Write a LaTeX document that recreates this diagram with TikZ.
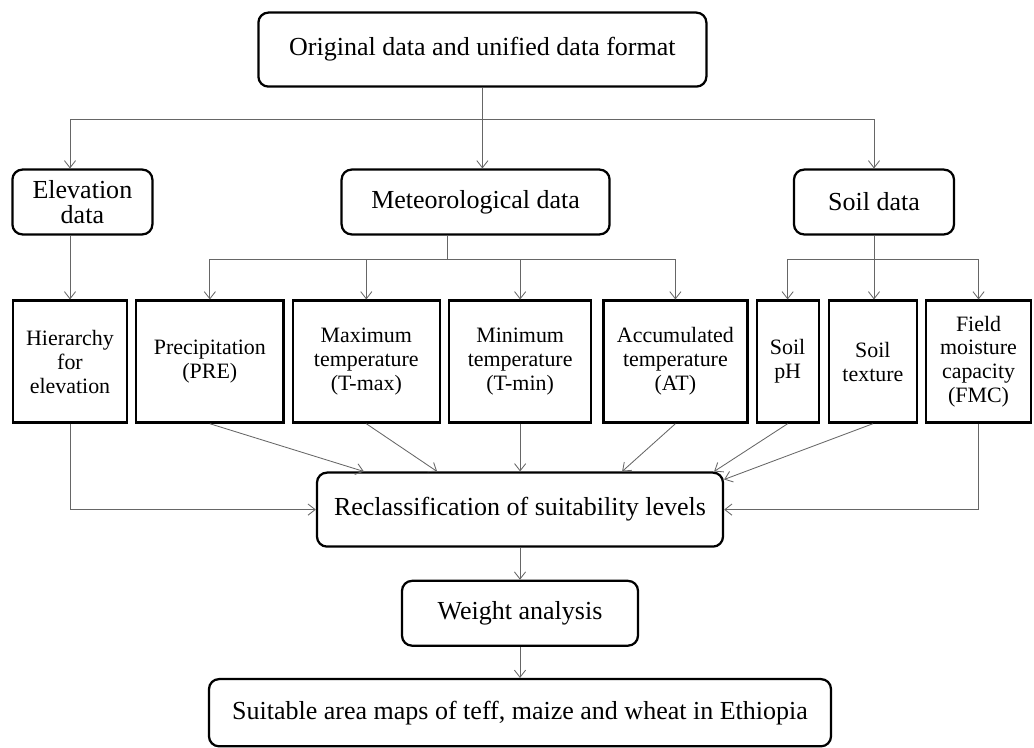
\documentclass[tikz,border=0pt]{standalone}
\usepackage{fontspec}
\setmainfont{Liberation Serif}
\usetikzlibrary{arrows.meta, positioning}
\newcommand{\boxfontL}{\fontsize{18.5pt}{18pt}\selectfont}
\newcommand{\boxfontS}{\fontsize{15.6pt}{17pt}\selectfont}
\tikzstyle{rbox} = [rectangle, rounded corners=0.25cm, line width=1.6pt, draw=black, align=center, font=\boxfontL, inner sep=2pt]
\tikzstyle{sbox} = [rectangle, line width=1.6pt, draw=black, align=center, font=\boxfontS, minimum height=3.05cm, inner sep=1pt]
\tikzstyle{link} = [line width=0.6pt, draw=black!60]
\tikzstyle{arrow} = [link, -{Straight Barb[length=1.8mm,width=2.8mm]}]

\begin{document}
\begin{tikzpicture}[node distance=0.175cm]
\useasboundingbox (0,0) rectangle (25.85,-18.7);

% Nodes
\node (orig) [rbox, minimum width=11.2cm, minimum height=1.85cm] at (12.06,-1.24) {Original data and unified data format};
\node (elev) [rbox, minimum width=3.5cm, minimum height=1.62cm] at (2.06,-5.05) {Elevation\\data};
\node (met) [rbox, minimum width=6.7cm, minimum height=1.62cm] at (11.89,-5.05) {Meteorological data};
\node (soil) [rbox, minimum width=4.0cm, minimum height=1.62cm] at (21.85,-5.05) {Soil data};

\node (hier) [sbox, minimum width=2.85cm] at (1.75,-9.04) {Hierarchy\\for\\elevation};
\node (prec) [sbox, minimum width=3.68cm, right=of hier] {Precipitation\\(PRE)};
\node (tmax) [sbox, minimum width=3.68cm, right=of prec] {Maximum\\temperature\\(T-max)};
\node (tmin) [sbox, minimum width=3.55cm, right=of tmax] {Minimum\\temperature\\(T-min)};
\node (acct) [sbox, minimum width=3.6cm, right=0.25cm of tmin] {Accumulated\\temperature\\(AT)};
\node (ph) [sbox, minimum width=1.55cm, right=of acct] {Soil\\pH};
\node (tex) [sbox, minimum width=2.2cm, right=0.2cm of ph] {Soil\\texture};
\node (fmc) [sbox, minimum width=2.62cm, right=of tex] {Field\\moisture\\capacity\\(FMC)};

\node (recl) [rbox, minimum width=10.15cm, minimum height=1.85cm] at (13.0,-12.74) {Reclassification of suitability levels};
\node (wgt) [rbox, minimum width=5.9cm, minimum height=1.62cm, below=0.8cm of recl] {Weight analysis};
\node (final) [rbox, minimum width=15.55cm, minimum height=1.68cm, below=0.78cm of wgt] {Suitable area maps of teff, maize and wheat in Ethiopia};

% Arrows
\coordinate (split1) at ([yshift=-0.8cm]orig.south);
\draw [arrow] (orig.south) -- (orig.south |- met.north);
\draw [arrow] (split1) -| (hier.north |- elev.north);
\draw [arrow] (split1) -| (soil.north);

\coordinate (split2) at ([xshift=-0.7cm, yshift=-0.6cm]met.south);
\draw [link] ([xshift=-0.7cm]met.south) -- (split2);
\draw [arrow] (split2) -| (prec.north);
\draw [arrow] (split2) -| (tmax.north);
\draw [arrow] (split2) -| (tmin.north);
\draw [arrow] (split2) -| (acct.north);

\coordinate (split3) at ([yshift=-0.6cm]soil.south);
\draw [arrow] (soil.south) -- (soil.south |- tex.north);
\draw [arrow] (split3) -| (ph.north);
\draw [arrow] (split3) -| (fmc.north);

\draw [arrow] (elev.south -| hier.north) -- (hier.north);

\draw [arrow] (hier.south) |- (recl.west);
\draw [arrow] (fmc.south) |- (recl.east);
\draw [arrow] (prec.south) -- ([xshift=1.2cm]recl.north west);
\draw [arrow] (tmax.south) -- ([xshift=3.03cm]recl.north west);
\draw [arrow] (tmin.south) -- (tmin.south |- recl.north);
\draw [arrow] (acct.south) -- ([xshift=-2.55cm]recl.north east);
\draw [arrow] (ph.south) -- ([xshift=-0.25cm]recl.north east);
\draw [arrow] (tex.south) -- ([yshift=-0.2cm]recl.north east);

\draw [arrow] (recl.south) -- (wgt.north);
\draw [arrow] (wgt.south) -- (final.north);

\end{tikzpicture}
\end{document}
